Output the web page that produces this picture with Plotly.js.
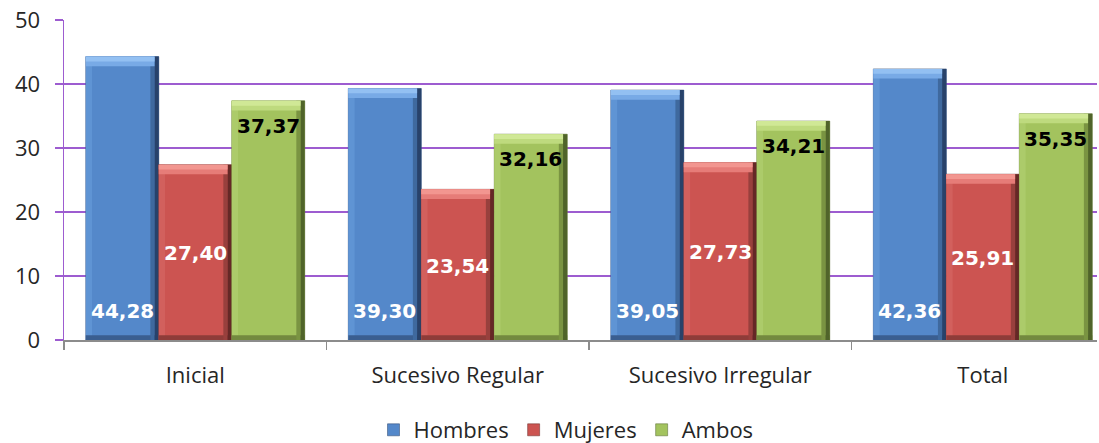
<!DOCTYPE html>
<html>
<head>
<meta charset="utf-8">
<script src="https://cdn.plot.ly/plotly-3.0.1.min.js"></script>
<style>
html,body{margin:0;padding:0;background:#fff;overflow:hidden;}
#chart{width:1099px;height:443px;}
</style>
</head>
<body>
<div id="chart"></div>
<script>
// ---- data ----
const categories = ["Inicial", "Sucesivo Regular", "Sucesivo Irregular", "Total"];
const hombres = [44.28, 39.30, 39.05, 42.36];
const mujeres = [27.40, 23.54, 27.73, 25.91];
const ambos   = [37.37, 32.16, 34.21, 35.35];
const seriesNames = ["Hombres", "Mujeres", "Ambos"];

// ---- styling ----
const styles = [
  {main: "#5488CA", left: "#5F94D4", top: "#78AAE6", hi: "#93C0F2", rIn: "#3F699E", rOut: "#28426A", bottom: "#3A5E90", text: "#ffffff"},
  {main: "#CC5451", left: "#D2605D", top: "#E67C78", hi: "#F29690", rIn: "#98403D", rOut: "#652826", bottom: "#8E3C39", text: "#ffffff"},
  {main: "#A3C35E", left: "#ACCB6A", top: "#BEDA7E", hi: "#D0E896", rIn: "#7A9442", rOut: "#50642A", bottom: "#73893F", text: "#000000"}
];
const W = 0.278;                        // bar width (category units)
const offsets = [-0.417, -0.139, 0.139];
const EDGE = 0.016;                     // bevel strip width (category units)
const DEPTH = 0.75;                     // bevel strip depth (value units)
const FONT = "Open Sans, Noto Sans, sans-serif";
const LABEL_FONT = "DejaVu Sans, Verdana, sans-serif";

const data = [];
const allSeries = [hombres, mujeres, ambos];
function strip(vals, base, h, off, wid, color) {
  return {type: "bar", x: categories, y: vals.map(h), base: vals.map(base), offset: off, width: wid,
    marker: {color: color, line: {width: 0}}, showlegend: false, hoverinfo: "skip"};
}
allSeries.forEach((vals, s) => {
  const st = styles[s];
  const o = offsets[s];
  // main bar
  data.push({type: "bar", name: seriesNames[s], x: categories, y: vals,
    offset: o, width: W, marker: {color: st.main, line: {width: 0.5, color: st.rOut}},
    showlegend: true, hoverinfo: "x+y"});
  // left bevel
  data.push(strip(vals, () => 0, v => v, o, EDGE * 1.5, st.left));
  // bottom bevel
  data.push(strip(vals, () => 0, () => DEPTH, o, W, st.bottom));
  // right bevel (dark, two tones)
  data.push(strip(vals, () => 0, v => v, o + W - 2 * EDGE, EDGE, st.rIn));
  data.push(strip(vals, () => 0, v => v, o + W - EDGE, EDGE, st.rOut));
  // top bevel (light, two tones)
  data.push(strip(vals, v => v - 2 * DEPTH, () => 2 * DEPTH, o, W - EDGE, st.top));
  data.push(strip(vals, v => v - DEPTH, () => DEPTH, o, W - EDGE, st.hi));
});

// ---- value labels ----
const fmt = v => v.toFixed(2).replace(".", ",");
const annotations = [];
allSeries.forEach((vals, s) => {
  vals.forEach((v, i) => {
    const a = {xref: "x", yref: "y", x: i + offsets[s] + W / 2, showarrow: false,
      text: "<b>" + fmt(v) + "</b>", font: {family: LABEL_FONT, size: 20, color: styles[s].text},
      xanchor: "center", yanchor: "middle"};
    if (s === 0) { a.y = 0; a.yshift = 29; }
    else if (s === 1) { a.y = v / 2; a.yshift = -1; }
    else { a.y = v; a.yshift = -25; }
    annotations.push(a);
  });
});

const layout = {
  width: 1099, height: 443,
  margin: {l: 64, r: 2, t: 20, b: 103, pad: 0},
  paper_bgcolor: "#ffffff", plot_bgcolor: "#ffffff",
  barmode: "overlay",
  font: {family: FONT, size: 22, color: "#262626"},
  xaxis: {type: "category", range: [-0.5, 3.435], showgrid: false, zeroline: false,
    showline: true, linecolor: "#8c8c8c", linewidth: 1.5,
    ticks: "outside", tickson: "boundaries", ticklen: 8, tickcolor: "#8c8c8c", tickwidth: 1.2,
    ticklabelstandoff: 15, tickfont: {family: FONT, size: 22, color: "#262626"}},
  yaxis: {range: [0, 50], dtick: 10, showgrid: true, gridcolor: "#9D5CD0", gridwidth: 1.4,
    zeroline: false, showline: true, linecolor: "#9D5CD0", linewidth: 1.4,
    ticks: "outside", ticklen: 8, tickcolor: "#9D5CD0", tickwidth: 1.4,
    ticklabelstandoff: 10, tickfont: {family: FONT, size: 22, color: "#262626"}},
  legend: {orientation: "h", xref: "container", yref: "container", x: 566/1099, xanchor: "center",
    y: 13/443, yanchor: "middle", font: {family: FONT, size: 22, color: "#262626"},
    itemwidth: 30, traceorder: "normal", bgcolor: "rgba(0,0,0,0)"},
  annotations: annotations,
  showlegend: true
};

Plotly.newPlot("chart", data, layout, {displayModeBar: false, staticPlot: true});
</script>
</body>
</html>
